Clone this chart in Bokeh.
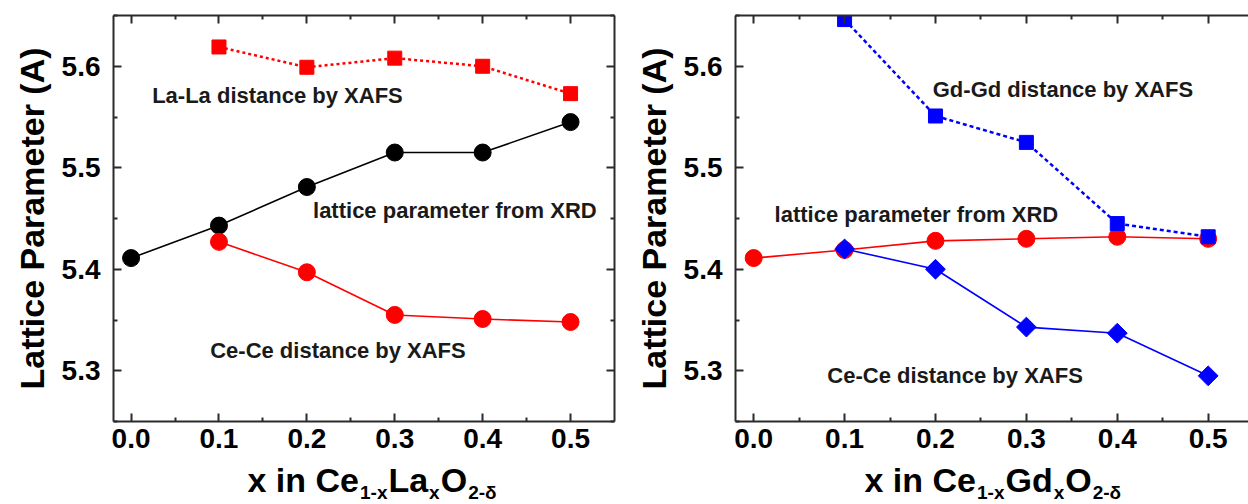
import numpy as np
from bokeh.plotting import figure
from bokeh.models import LinearAxis, Label, Range1d, FixedTicker, NumeralTickFormatter
from bokeh.core.properties import value
from bokeh.layouts import row, column
from bokeh.embed import file_html
from bokeh.resources import INLINE

# ---- Ce(1-x)La(x)O(2-d) ----
x_la_xafs = [0.1, 0.2, 0.3, 0.4, 0.5]
la_la_xafs = [5.619, 5.599, 5.608, 5.600, 5.573]
x_la_xrd = [0.0, 0.1, 0.2, 0.3, 0.4, 0.5]
la_xrd = [5.411, 5.443, 5.481, 5.515, 5.515, 5.545]
x_la_ce = [0.1, 0.2, 0.3, 0.4, 0.5]
la_ce_ce_xafs = [5.427, 5.397, 5.355, 5.351, 5.348]

# ---- Ce(1-x)Gd(x)O(2-d) ----
x_gd_xafs = [0.1, 0.2, 0.3, 0.4, 0.5]
gd_gd_xafs = [5.646, 5.551, 5.525, 5.445, 5.432]
x_gd_xrd = [0.0, 0.1, 0.2, 0.3, 0.4, 0.5]
gd_xrd = [5.411, 5.419, 5.428, 5.430, 5.432, 5.430]
x_gd_ce = [0.1, 0.2, 0.3, 0.4, 0.5]
gd_ce_ce_xafs = [5.420, 5.400, 5.343, 5.337, 5.295]

x_ticks = [0.0, 0.1, 0.2, 0.3, 0.4, 0.5]
x_minor = [0.05, 0.15, 0.25, 0.35, 0.45]
y_ticks = [5.3, 5.4, 5.5, 5.6]
y_minor = [5.25, 5.35, 5.45, 5.55, 5.65]

# x-axis titles: (text, subscript?)
la_title = [("x in Ce", False), ("1-x", True), ("La", False), ("x", True),
            ("O", False), ("2-\u03b4", True)]
gd_title = [("x in Ce", False), ("1-x", True), ("Gd", False), ("x", True),
            ("O", False), ("2-\u03b4", True)]

FONT = "Liberation Sans"
AXIS_COLOR = "#2b2b2b"
RED = "#ff0000"
BLUE = "#0000ff"

Y0, Y1 = 5.25, 5.65
TOP, BOTTOM = 15, 41
H_MAIN = 462
H_TITLE = 42

# approximate advance widths (em) of bold sans glyphs for laying out the titles
ADV = {"x": 0.556, " ": 0.278, "i": 0.278, "n": 0.611, "C": 0.722, "e": 0.556,
       "1": 0.556, "-": 0.333, "L": 0.611, "a": 0.556, "O": 0.778, "2": 0.556,
       "\u03b4": 0.611, "G": 0.778, "d": 0.611}
MAIN_SIZE, SUB_SIZE = 34, 19
MAIN_MID, SUB_MID = 25, 12   # vertical centres inside the title strip


def style_axis(ax, ticks, minor, labels=True):
    ax.ticker = FixedTicker(ticks=ticks, minor_ticks=minor)
    ax.axis_line_color = AXIS_COLOR
    ax.axis_line_width = 2
    ax.major_tick_line_color = AXIS_COLOR
    ax.major_tick_line_width = 2
    ax.minor_tick_line_color = AXIS_COLOR
    ax.minor_tick_line_width = 2
    ax.major_tick_in = 8
    ax.major_tick_out = 0
    ax.minor_tick_in = 4
    ax.minor_tick_out = 0
    ax.formatter = NumeralTickFormatter(format="0.0")
    if labels:
        ax.major_label_text_font = FONT
        ax.major_label_text_font_style = "bold"
        ax.major_label_text_font_size = "28px"
        ax.major_label_text_color = "black"
    else:
        ax.major_label_text_font_size = "1px"
        ax.major_label_text_color = None
        ax.major_label_standoff = 0


def make_panel(width, x_end, left_border, right_border, right_axis):
    p = figure(width=width, height=H_MAIN, x_range=Range1d(-0.02, x_end),
               y_range=Range1d(Y0, Y1), output_backend="svg",
               toolbar_location=None, min_border_left=left_border,
               min_border_right=right_border, min_border_top=TOP,
               min_border_bottom=BOTTOM)
    p.grid.visible = False
    p.outline_line_color = None
    p.background_fill_color = "white"
    p.border_fill_color = "white"
    style_axis(p.xaxis[0], x_ticks, x_minor)
    style_axis(p.yaxis[0], y_ticks, y_minor)
    p.xaxis.major_label_standoff = 7
    p.yaxis.major_label_standoff = 13
    p.yaxis.axis_label = "Lattice Parameter (A)"
    p.yaxis.axis_label_text_font = FONT
    p.yaxis.axis_label_text_font_style = "bold"
    p.yaxis.axis_label_text_font_size = "34px"
    p.yaxis.axis_label_text_color = "black"
    p.yaxis.axis_label_standoff = 8
    top = LinearAxis()
    style_axis(top, x_ticks, x_minor, labels=False)
    p.add_layout(top, "above")
    if right_axis:
        right = LinearAxis()
        style_axis(right, y_ticks, y_minor, labels=False)
        p.add_layout(right, "right")
    return p


def add_note(p, x, y, text):
    p.add_layout(Label(x=x, y=y, text=text, text_font=FONT,
                       text_font_style="bold", text_font_size="22px",
                       text_color="#1a1a1a", text_baseline="middle",
                       text_align="left"))


def title_strip(width, pieces, start_px):
    """Axis title with lowered subscripts, drawn in a strip in pixel units."""
    t = figure(width=width, height=H_TITLE, x_range=Range1d(0, width),
               y_range=Range1d(0, H_TITLE), output_backend="svg",
               toolbar_location=None, min_border=0, title=None,
               x_axis_type=None, y_axis_type=None)
    t.grid.visible = False
    t.outline_line_color = None
    xs, ys, txt, sizes = [], [], [], []
    cur = start_px
    for s, sub in pieces:
        size = SUB_SIZE if sub else MAIN_SIZE
        xs.append(cur)
        ys.append(SUB_MID if sub else MAIN_MID)
        txt.append(s)
        sizes.append(f"{size}px")
        cur += sum(ADV.get(c, 0.6) for c in s) * size + 1
    t.text(x=xs, y=ys, text=txt, text_font=value(FONT), text_font_style="bold",
           text_font_size=sizes, text_color="black",
           text_baseline="middle", text_align="left")
    return t


# ---------------- left panel ----------------
p1 = make_panel(620, 0.55, 113, 6, True)
p1.line(x_la_xafs, la_la_xafs, line_color=RED, line_width=2.5, line_dash="3 3")
p1.scatter(x_la_xafs, la_la_xafs, marker="square", size=14, color=RED)
p1.line(x_la_xrd, la_xrd, line_color="black", line_width=1.6)
p1.scatter(x_la_xrd, la_xrd, marker="circle", size=17, color="black")
p1.line(x_la_ce, la_ce_ce_xafs, line_color=RED, line_width=1.6)
p1.scatter(x_la_ce, la_ce_ce_xafs, marker="circle", size=17, color=RED)

add_note(p1, 0.024, 5.571, "La-La distance by XAFS")
add_note(p1, 0.207, 5.458, "lattice parameter from XRD")
add_note(p1, 0.090, 5.320, "Ce-Ce distance by XAFS")

t1 = title_strip(620, la_title, 247)

# ---------------- right panel ----------------
p2 = make_panel(628, -0.02 + 513 / 909, 115, 0, False)
p2.line(x_gd_xrd, gd_xrd, line_color=RED, line_width=1.6)
p2.scatter(x_gd_xrd, gd_xrd, marker="circle", size=17, color=RED)
p2.line(x_gd_xafs, gd_gd_xafs, line_color=BLUE, line_width=2.5, line_dash="4 3")
p2.scatter(x_gd_xafs, gd_gd_xafs, marker="square", size=14, color=BLUE)
p2.line(x_gd_ce, gd_ce_ce_xafs, line_color=BLUE, line_width=1.6)
p2.scatter(x_gd_ce, gd_ce_ce_xafs, marker="square", size=14, angle=np.pi / 4,
           color=BLUE)

add_note(p2, 0.197, 5.577, "Gd-Gd distance by XAFS")
add_note(p2, 0.023, 5.454, "lattice parameter from XRD")
add_note(p2, 0.081, 5.295, "Ce-Ce distance by XAFS")

t2 = title_strip(628, gd_title, 244)

layout = column(row(p1, p2), row(t1, t2))
open("out.html", "w").write(file_html(layout, INLINE))
